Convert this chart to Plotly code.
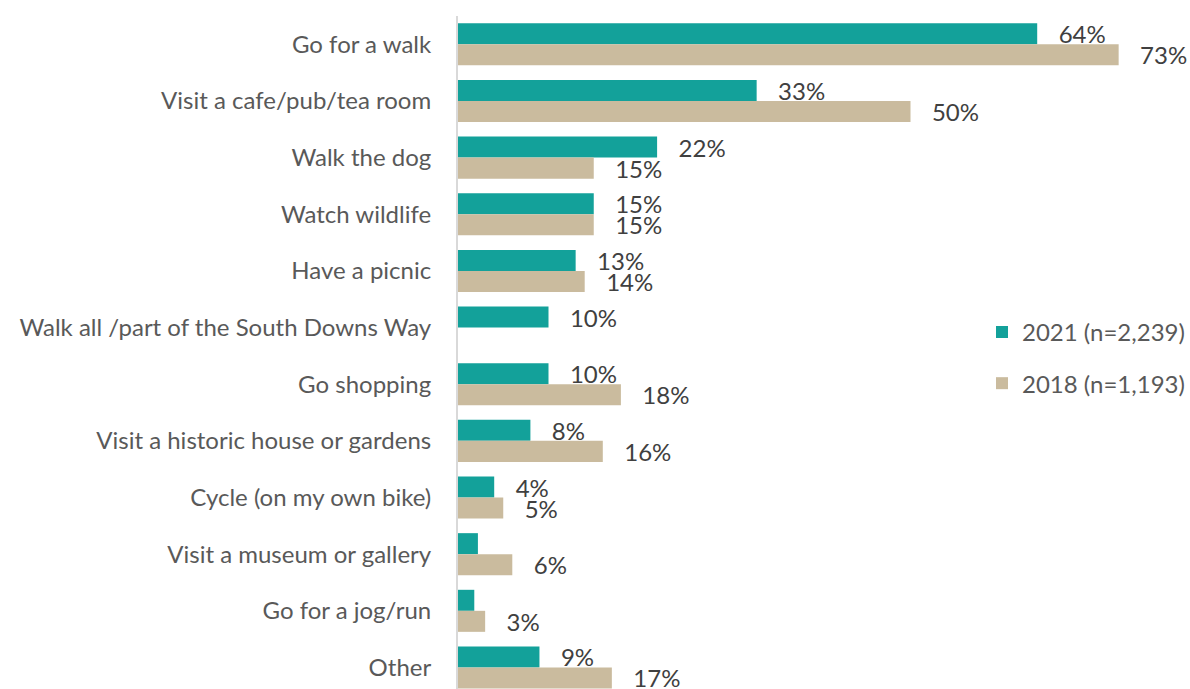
import plotly.graph_objects as go

# Activities, listed top to bottom
activities = [
    "Go for a walk",
    "Visit a cafe/pub/tea room",
    "Walk the dog",
    "Watch wildlife",
    "Have a picnic",
    "Walk all /part of the South Downs Way",
    "Go shopping",
    "Visit a historic house or gardens",
    "Cycle (on my own bike)",
    "Visit a museum or gallery",
    "Go for a jog/run",
    "Other",
]

# Share of respondents (%)
pct_2021 = [64, 33, 22, 15, 13, 10, 10, 8, 4, 2.2, 1.8, 9]
pct_2018 = [73, 50, 15, 15, 14, None, 18, 16, 5, 6, 3, 17]

# Data labels (blank where no label is shown)
labels_2021 = ["64%", "33%", "22%", "15%", "13%", "10%", "10%", "8%", "4%", "", "", "9%"]
labels_2018 = ["73%", "50%", "15%", "15%", "14%", "", "18%", "16%", "5%", "6%", "3%", "17%"]

series_names = ["2021 (n=2,239)", "2018 (n=1,193)"]
colors = ["#13A19A", "#CABB9E"]

FONT = "Lato"
SIZE = 24
PAD = "\u00a0" * 3

fig = go.Figure()
for name, vals, labs, col in [
    (series_names[0], pct_2021, labels_2021, colors[0]),
    (series_names[1], pct_2018, labels_2018, colors[1]),
]:
    fig.add_trace(go.Bar(
        name=name,
        y=activities,
        x=vals,
        orientation="h",
        marker=dict(color=col, line=dict(width=0)),
        text=[PAD + t if t else "" for t in labs],
        textposition="outside",
        textfont=dict(family=FONT, size=SIZE, color="#404040"),
        constraintext="none",
        cliponaxis=False,
        legendgroup=name,
    ))

fig.update_layout(
    width=1190,
    height=689,
    margin=dict(l=458, r=4, t=16, b=0),
    paper_bgcolor="white",
    plot_bgcolor="white",
    barmode="group",
    bargap=0.258,
    bargroupgap=0,
    font=dict(family=FONT, size=SIZE, color="#595959"),
    showlegend=True,
    legend=dict(
        x=0.724, y=0.492, xanchor="left", yanchor="middle",
        font=dict(family=FONT, size=SIZE, color="#595959"),
        bgcolor="rgba(0,0,0,0)",
        traceorder="grouped",
        tracegroupgap=17,
    ),
    xaxis=dict(
        range=[0, 80],
        showgrid=False, zeroline=False, showticklabels=False, showline=False,
    ),
    yaxis=dict(
        categoryorder="array",
        categoryarray=activities,
        range=[11.38, -0.5],
        showgrid=False, zeroline=False,
        showline=True, linecolor="#D9D9D9", linewidth=2,
        ticks="",
        ticklabelstandoff=20,
        tickfont=dict(family=FONT, size=SIZE, color="#595959"),
    ),
)

fig.write_html("out.html")
